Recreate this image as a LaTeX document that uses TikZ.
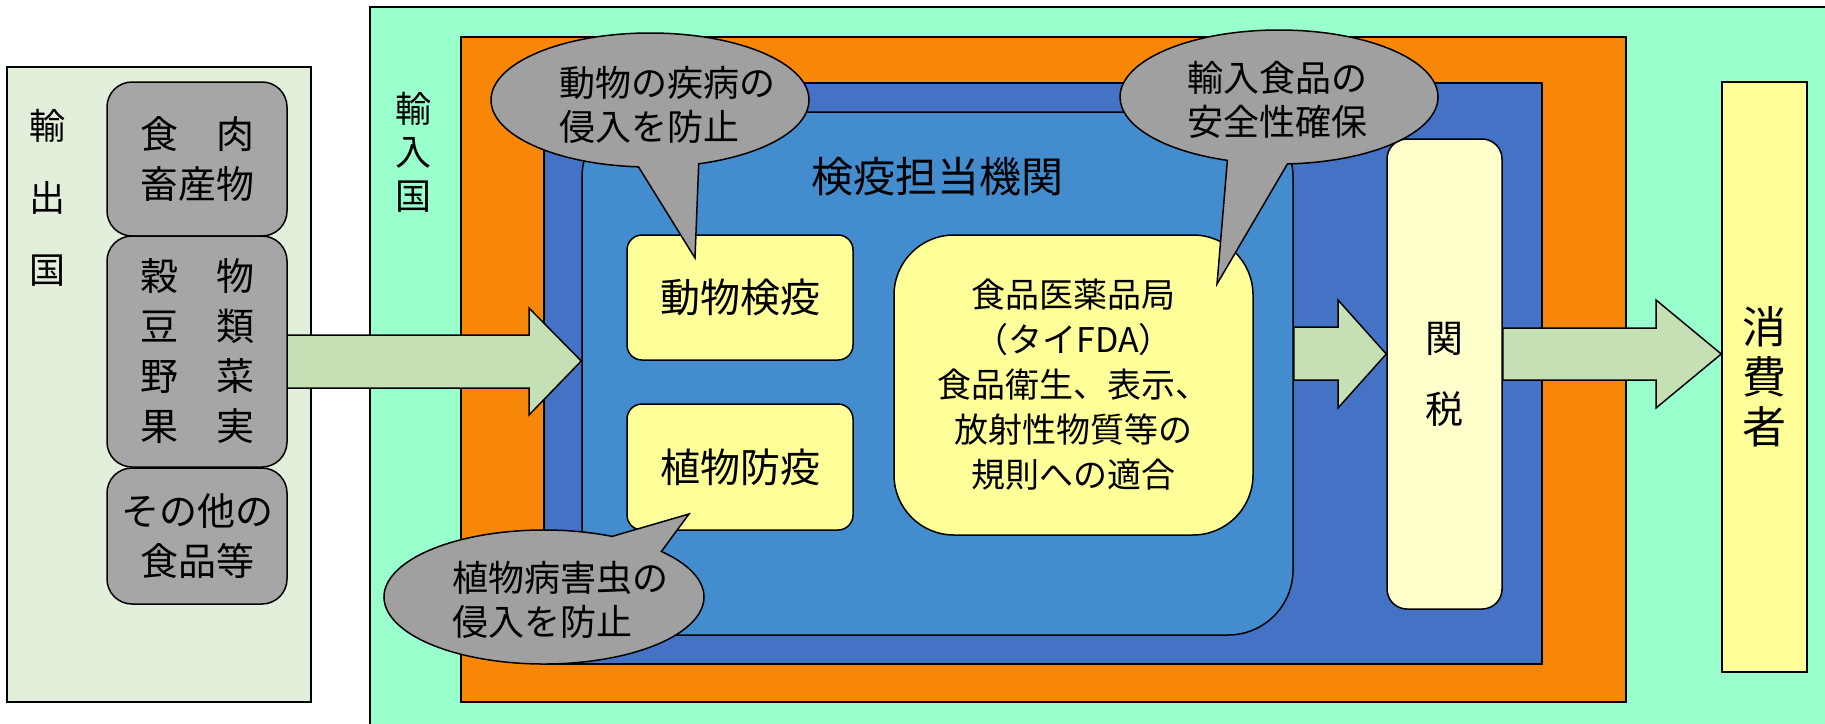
\documentclass[tikz,border=0pt]{standalone}
\usepackage{fontspec}
\setmainfont{Noto Sans CJK JP}
\usetikzlibrary{shapes.callouts}
\definecolor{exportbg}{HTML}{E2EFDA}
\definecolor{tealbg}{HTML}{99FFCC}
\definecolor{orangebg}{HTML}{F88708}
\definecolor{darkblue}{HTML}{4472C4}
\definecolor{lightblue}{HTML}{438CCE}
\definecolor{boxgray}{HTML}{A6A6A6}
\definecolor{callgray}{HTML}{A0A0A0}
\definecolor{yellowbox}{HTML}{FFFF99}
\definecolor{paleyellow}{HTML}{FFFFCC}
\definecolor{arrowgreen}{HTML}{C5E0B4}
\tikzset{
  area/.style={draw=black, line width=1.5pt, rectangle, inner sep=0pt},
  graybox/.style={area, fill=boxgray, rounded corners=25pt, minimum width=180pt,
     font=\fontsize{38}{50}\selectfont, align=center},
  ybox/.style={area, fill=yellowbox, rounded corners=15pt, minimum width=226pt,
     font=\fontsize{40}{48}\selectfont, align=center},
  bigarrow/.style={draw=black, line width=1.5pt, fill=arrowgreen, line join=miter},
  bubble/.style={ellipse callout, draw=black, line width=1.5pt, fill=callgray,
     minimum width=318pt, minimum height=134pt, inner sep=0pt, callout pointer arc=22},
  bubbletext/.style={anchor=west, align=left, inner sep=0pt, font=\fontsize{36}{44}\selectfont},
  vtext/.style={align=center, inner sep=0pt}
}
\begin{document}
\begin{tikzpicture}[x=1pt,y=-1pt]
\useasboundingbox (0,0) rectangle (1825,723);
% exporting country
\node[area, fill=exportbg, minimum width=304pt, minimum height=635pt] (exp) at (159,384.5) {};
\node[vtext, font=\fontsize{36}{72}\selectfont] (expl) at (47,198) {輸\\出\\国};
% importing country
\node[area, fill=tealbg, minimum width=1460pt, minimum height=723pt] (imp) at (1100,368.5) {};
\node[vtext, font=\fontsize{36}{43.5}\selectfont] (impl) at (413,152) {輸\\入\\国};
\node[area, fill=orangebg, minimum width=1165pt, minimum height=665pt] (org) at (1043.5,369.5) {};
\node[area, fill=darkblue, minimum width=998pt, minimum height=581pt] (db) at (1043,373.5) {};
\node[area, fill=lightblue, rounded corners=65pt, minimum width=711pt, minimum height=523pt] (lb) at (937.5,373.5) {};
\node[inner sep=0pt, font=\fontsize{42}{48}\selectfont] (title) at (937,177) {検疫担当機関};
% inspection boxes
\node[ybox, minimum height=125pt] (animal) at (740,297.5) {動物検疫};
\node[ybox, minimum height=126pt] (plant) at (740,467) {植物防疫};
\node[area, fill=yellowbox, rounded corners=60pt, minimum width=359pt, minimum height=300pt,
  align=center, font=\fontsize{34}{45}\selectfont] (fda) at (1073.5,385)
  {食品医薬品局\\（タイFDA）\\食品衛生、表示、\\放射性物質等の\\規則への適合};
% tariff and consumer
\node[area, fill=paleyellow, rounded corners=20pt, minimum width=115pt, minimum height=470pt,
  align=center, font=\fontsize{38}{71}\selectfont] (tariff) at (1444.5,374) {関\\税};
\node[area, fill=yellowbox, minimum width=85pt, minimum height=590pt,
  align=center, font=\fontsize{44}{50}\selectfont] (cons) at (1764.5,377) {消\\費\\者};
% arrows
\draw[bigarrow] (287,335) -- (529,335) -- (529,308) -- (lb.west |- 0,361) -- (529,415) -- (529,388) -- (287,388) -- cycle;
\draw[bigarrow] (lb.east |- 0,327) -- (1338,327) -- (1338,300) -- (tariff.west |- 0,354) -- (1338,408) -- (1338,380) -- (lb.east |- 0,380) -- cycle;
\draw[bigarrow] (tariff.east |- 0,328) -- (1656,328) -- (1656,300) -- (cons.west |- 0,354) -- (1656,408) -- (1656,380) -- (tariff.east |- 0,380) -- cycle;
% products
\node[graybox, minimum height=154pt] (g1) at (197,159) {食　肉\\畜産物};
\node[graybox, minimum height=231pt] (g2) at (197,351.5) {穀　物\\豆　類\\野　菜\\果　実};
\node[graybox, minimum height=136pt] (g3) at (197,536) {その他の\\食品等};
% callouts
\coordinate (tipA) at (695,258);
\coordinate (tipB) at (1217,284);
\coordinate (tipC) at (689,514);
\node[bubble, callout absolute pointer={(tipA)}] (bA) at (650,100) {};
\node[bubbletext] (tA) at (559,105) {動物の疾病の\\侵入を防止};
\node[bubble, callout absolute pointer={(tipB)}] (bB) at (1279,97) {};
\node[bubbletext] (tB) at (1187,100) {輸入食品の\\安全性確保};
\node[bubble, minimum width=320pt, callout absolute pointer={(tipC)}] (bC) at (544,597) {};
\node[bubbletext] (tC) at (452,600) {植物病害虫の\\侵入を防止};
\end{tikzpicture}
\end{document}
